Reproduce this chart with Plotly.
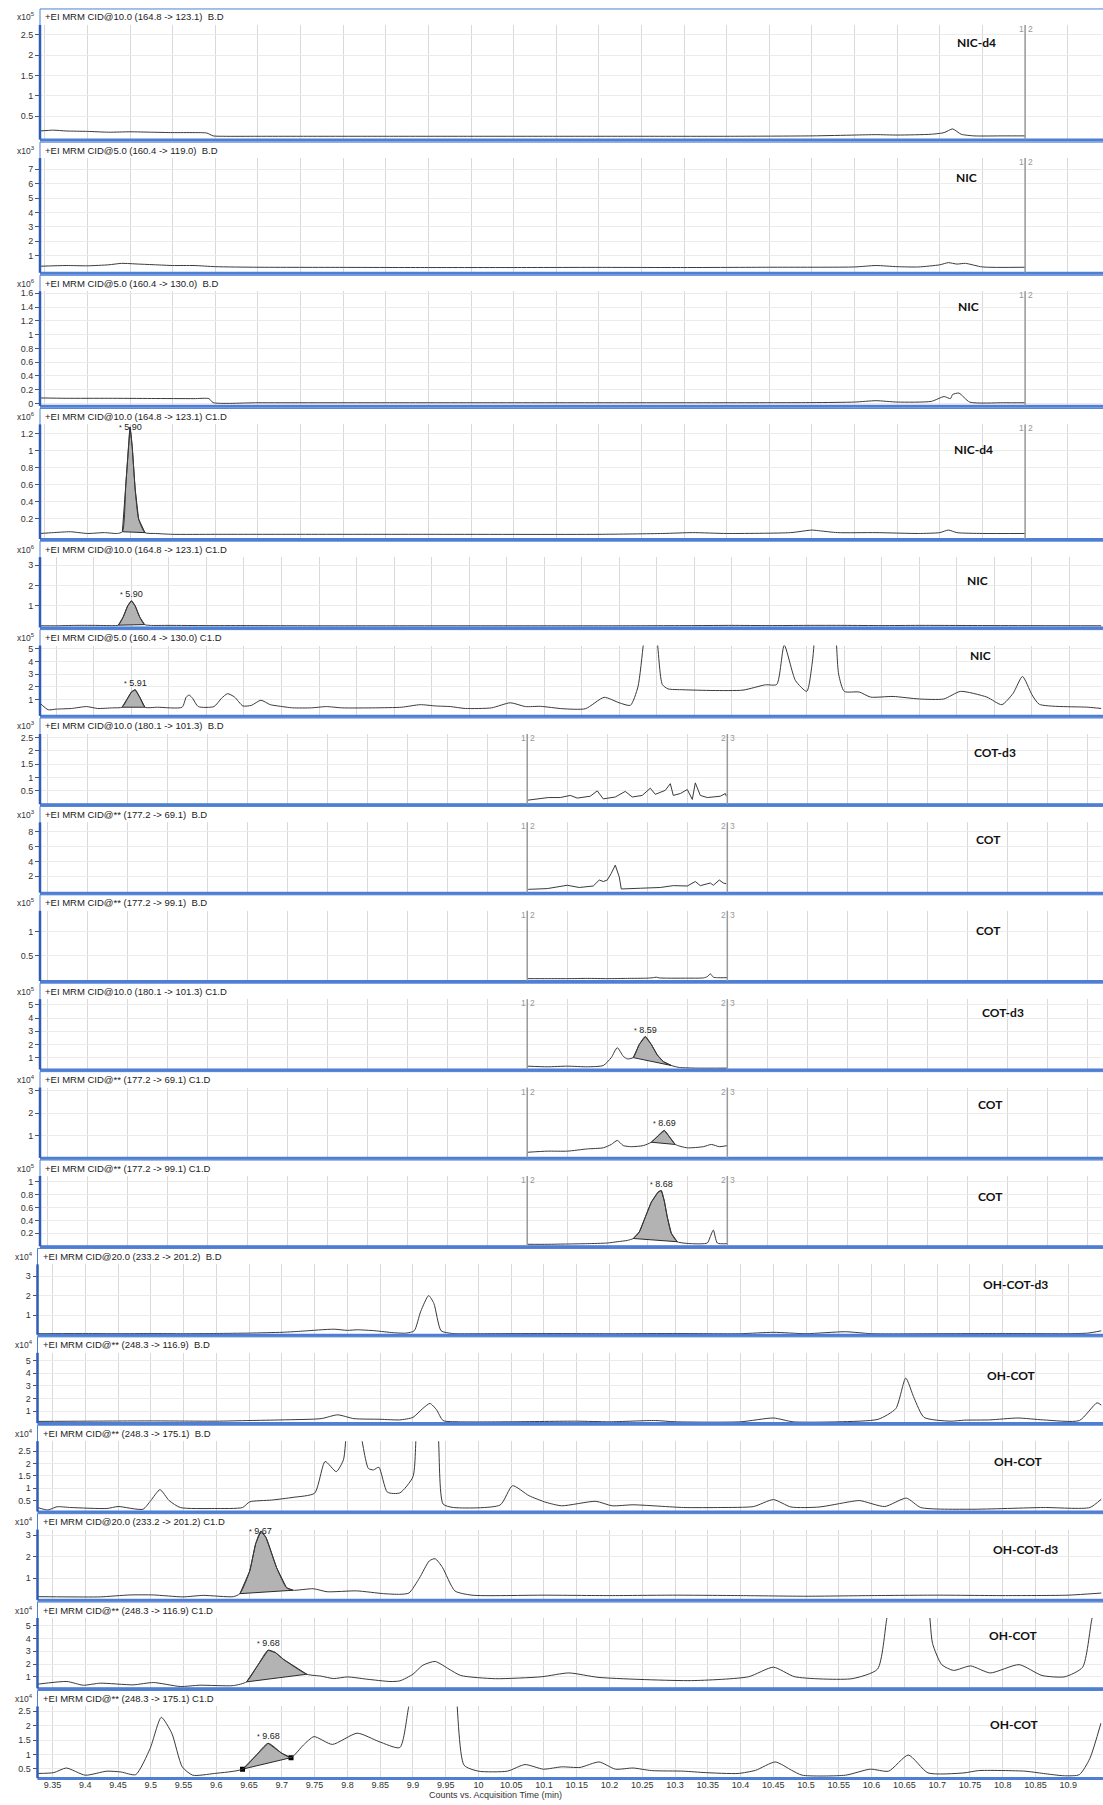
import plotly.graph_objects as go

W, H = 1103, 1805

# ------------------------------------------------------------------ data
titles = [
    "+EI MRM CID@10.0 (164.8 -> 123.1)\u00a0\u00a0B.D",
    "+EI MRM CID@5.0 (160.4 -> 119.0)\u00a0\u00a0B.D",
    "+EI MRM CID@5.0 (160.4 -> 130.0)\u00a0\u00a0B.D",
    "+EI MRM CID@10.0 (164.8 -> 123.1) C1.D",
    "+EI MRM CID@10.0 (164.8 -> 123.1) C1.D",
    "+EI MRM CID@5.0 (160.4 -> 130.0) C1.D",
    "+EI MRM CID@10.0 (180.1 -> 101.3)\u00a0\u00a0B.D",
    "+EI MRM CID@** (177.2 -> 69.1)\u00a0\u00a0B.D",
    "+EI MRM CID@** (177.2 -> 99.1)\u00a0\u00a0B.D",
    "+EI MRM CID@10.0 (180.1 -> 101.3) C1.D",
    "+EI MRM CID@** (177.2 -> 69.1) C1.D",
    "+EI MRM CID@** (177.2 -> 99.1) C1.D",
    "+EI MRM CID@20.0 (233.2 -> 201.2)\u00a0\u00a0B.D",
    "+EI MRM CID@** (248.3 -> 116.9)\u00a0\u00a0B.D",
    "+EI MRM CID@** (248.3 -> 175.1)\u00a0\u00a0B.D",
    "+EI MRM CID@20.0 (233.2 -> 201.2) C1.D",
    "+EI MRM CID@** (248.3 -> 116.9) C1.D",
    "+EI MRM CID@** (248.3 -> 175.1) C1.D",
]
compounds = ["NIC-d4", "NIC", "NIC", "NIC-d4", "NIC", "NIC",
             "COT-d3", "COT", "COT", "COT-d3", "COT", "COT",
             "OH-COT-d3", "OH-COT", "OH-COT", "OH-COT-d3", "OH-COT", "OH-COT"]
exponents = [5, 3, 6, 6, 6, 5, 3, 3, 5, 5, 4, 5, 4, 4, 4, 4, 4, 4]
ytick_values = [
    [0.5, 1, 1.5, 2, 2.5], [1, 2, 3, 4, 5, 6, 7],
    [0, 0.2, 0.4, 0.6, 0.8, 1, 1.2, 1.4, 1.6], [0.2, 0.4, 0.6, 0.8, 1, 1.2],
    [1, 2, 3], [1, 2, 3, 4, 5], [0.5, 1, 1.5, 2, 2.5], [2, 4, 6, 8],
    [0.5, 1], [1, 2, 3, 4, 5], [1, 2, 3], [0.2, 0.4, 0.6, 0.8, 1],
    [1, 2, 3], [1, 2, 3, 4, 5], [0.5, 1, 1.5, 2, 2.5], [1, 2, 3],
    [1, 2, 3, 4, 5], [0.5, 1, 1.5, 2, 2.5],
]
axis_title = "Counts vs. Acquisition Time (min)"

# segment boundaries (time) for NIC and COT panels
nic_segment_marks = [(8.0, "1", "2")]
cot_segment_marks = [(8.0, "1", "2"), (9.0, "2", "3")]

# chromatogram traces (time in min, counts in units of 10^exponent)
p1_t = [5.689, 5.72, 5.75, 5.80, 5.85, 5.90, 5.95, 6.00, 6.05, 6.08, 6.095, 6.12, 6.20, 6.30, 6.50,
        6.70, 6.90, 7.10, 7.30, 7.50, 7.60, 7.65, 7.70, 7.78, 7.81, 7.83, 7.85, 7.88, 7.95, 8.0]
p1_y = [0.14, 0.16, 0.14, 0.13, 0.11, 0.12, 0.11, 0.10, 0.10, 0.09, 0.02, 0.01, 0.01, 0.01, 0.01,
        0.01, 0.01, 0.01, 0.01, 0.02, 0.04, 0.05, 0.04, 0.06, 0.10, 0.19, 0.06, 0.02, 0.02, 0.02]

p2_t = [5.689, 5.75, 5.80, 5.85, 5.88, 5.92, 5.96, 6.0, 6.05, 6.1, 6.2, 6.4, 6.6, 6.8, 7.0, 7.2,
        7.4, 7.6, 7.65, 7.7, 7.75, 7.8, 7.82, 7.84, 7.86, 7.9, 8.0]
p2_y = [0.25, 0.3, 0.28, 0.35, 0.45, 0.4, 0.35, 0.3, 0.3, 0.22, 0.18, 0.17, 0.16, 0.16, 0.17, 0.16,
        0.18, 0.2, 0.3, 0.22, 0.2, 0.35, 0.5, 0.4, 0.45, 0.2, 0.18]

p3_t = [5.689, 5.75, 5.85, 5.95, 6.05, 6.085, 6.095, 6.2, 6.5, 7.0, 7.5, 7.6, 7.65, 7.7, 7.78,
        7.81, 7.825, 7.83, 7.845, 7.87, 7.95, 8.0]
p3_y = [0.08, 0.075, 0.075, 0.072, 0.07, 0.07, 0.012, 0.01, 0.01, 0.01, 0.012, 0.02, 0.04, 0.02, 0.03,
        0.1, 0.07, 0.13, 0.15, 0.02, 0.01, 0.01]

p4_t = [5.689, 5.72, 5.76, 5.80, 5.84, 5.87, 5.882, 5.89, 5.897, 5.90, 5.905, 5.912, 5.92, 5.935,
        5.96, 6.0, 6.1, 6.3, 6.6, 7.0, 7.15, 7.22, 7.3, 7.45, 7.5, 7.52, 7.56, 7.65, 7.75, 7.8,
        7.82, 7.84, 7.9, 8.0]
p4_y = [0.03, 0.04, 0.05, 0.03, 0.04, 0.03, 0.05, 0.6, 1.1, 1.28, 1.05, 0.55, 0.2, 0.04,
        0.03, 0.02, 0.02, 0.02, 0.02, 0.02, 0.03, 0.04, 0.03, 0.04, 0.07, 0.06, 0.04, 0.04, 0.03, 0.04,
        0.07, 0.04, 0.03, 0.03]

p5_t = [5.656, 5.7, 5.75, 5.8, 5.85, 5.865, 5.878, 5.89, 5.90, 5.91, 5.922, 5.935, 5.95, 6.0, 6.1,
        6.2, 6.4, 6.6, 7.0, 7.2, 7.4, 7.5, 7.6, 7.7, 7.8, 7.9, 8.0, 8.2, 8.485]
p5_y = [0.02, 0.02, 0.04, 0.04, 0.03, 0.05, 0.45, 1.0, 1.25, 1.0, 0.45, 0.08, 0.04, 0.04, 0.03,
        0.03, 0.02, 0.02, 0.02, 0.02, 0.03, 0.04, 0.03, 0.04, 0.04, 0.03, 0.04, 0.03, 0.02]

p6_t = [5.656, 5.678, 5.70, 5.74, 5.78, 5.81, 5.85, 5.875, 5.89, 5.90, 5.91, 5.922, 5.936, 5.97,
        6.035, 6.046, 6.054, 6.063, 6.078, 6.12, 6.14, 6.156, 6.175, 6.197, 6.22, 6.245, 6.27,
        6.29, 6.33, 6.38, 6.42, 6.46, 6.55, 6.62, 6.67, 6.71, 6.75, 6.79, 6.86, 6.91, 6.95, 6.99,
        7.05, 7.11, 7.16, 7.20, 7.23, 7.25, 7.265, 7.28, 7.30, 7.315, 7.33, 7.37, 7.45, 7.53,
        7.59, 7.62, 7.64, 7.67, 7.70, 7.715, 7.725, 7.75, 7.775, 7.785, 7.80, 7.84, 7.87, 7.93,
        8.0, 8.065, 8.11, 8.18, 8.22, 8.25, 8.275, 8.30, 8.32, 8.45, 8.485]
p6_y = [0.73, 0.2, 0.25, 0.3, 0.45, 0.3, 0.35, 0.4, 1.1, 1.6, 1.78, 1.2, 0.4, 0.4,
        0.4, 1.2, 1.36, 1.1, 0.45, 0.45, 1.1, 1.47, 1.2, 0.5, 0.55, 0.95, 0.6,
        0.5, 0.35, 0.35, 0.45, 0.35, 0.35, 0.4, 0.6, 0.5, 0.45, 0.3, 0.35, 0.75, 0.45, 0.47,
        0.28, 0.28, 1.18, 0.75, 0.55, 2.0, 5.5, 9.0, 6.0, 2.2, 1.85, 1.78, 1.72, 1.75,
        2.17, 2.2, 5.3, 2.5, 1.65, 4.0, 7.0, 10.0, 7.0, 3.0, 1.65, 1.6, 1.2, 1.25,
        1.05, 1.05, 1.65, 1.2, 0.6, 1.5, 2.83, 1.4, 0.63, 0.4, 0.3]

p7_t = [8.0, 8.055, 8.105, 8.165, 8.215, 8.25, 8.315, 8.35, 8.38, 8.44, 8.49, 8.525, 8.575, 8.615,
        8.64, 8.69, 8.715, 8.73, 8.765, 8.8, 8.825, 8.84, 8.865, 8.9, 8.93, 8.965, 8.99, 8.995]
p7_y = [0.15, 0.2, 0.25, 0.25, 0.33, 0.23, 0.3, 0.5, 0.2, 0.27, 0.48, 0.27, 0.33, 0.6,
        0.37, 0.52, 0.77, 0.33, 0.4, 0.55, 0.18, 0.8, 0.33, 0.25, 0.27, 0.3, 0.4, 0.3]

p8_t = [8.005, 8.1, 8.2, 8.26, 8.33, 8.36, 8.38, 8.4, 8.42, 8.44, 8.46, 8.47, 8.565, 8.665, 8.73,
        8.8, 8.84, 8.865, 8.915, 8.93, 8.96, 8.98, 8.995]
p8_y = [0.25, 0.35, 0.8, 0.5, 0.7, 1.5, 1.3, 1.5, 2.4, 3.5, 1.9, 0.3, 0.4, 0.5, 0.75,
        0.7, 1.3, 0.75, 1.1, 0.8, 1.5, 1.1, 1.0]

p9_t = [8.0, 8.1, 8.2, 8.3, 8.4, 8.5, 8.6, 8.63, 8.645, 8.66, 8.7, 8.8, 8.88, 8.9, 8.915, 8.93,
        8.95, 9.0]
p9_y = [0.02, 0.02, 0.02, 0.025, 0.02, 0.025, 0.03, 0.04, 0.05, 0.035, 0.03, 0.03, 0.035, 0.06,
        0.12, 0.05, 0.04, 0.04]

p10_t = [8.0, 8.1, 8.2, 8.3, 8.38, 8.42, 8.45, 8.48, 8.50, 8.53, 8.56, 8.59, 8.62, 8.65, 8.68,
         8.72, 8.76, 8.85, 8.95, 9.0]
p10_y = [0.35, 0.3, 0.35, 0.3, 0.4, 1.0, 1.75, 1.1, 0.9, 1.0, 2.0, 2.6, 2.0, 1.2, 0.7,
         0.4, 0.25, 0.2, 0.2, 0.2]

p11_t = [8.0, 8.1, 8.2, 8.3, 8.38, 8.42, 8.45, 8.48, 8.52, 8.58, 8.62, 8.66, 8.685, 8.71, 8.74,
         8.8, 8.88, 8.92, 8.96, 9.0]
p11_y = [0.25, 0.3, 0.3, 0.4, 0.45, 0.6, 0.78, 0.55, 0.5, 0.55, 0.7, 1.05, 1.23, 0.95, 0.6,
         0.45, 0.5, 0.6, 0.5, 0.55]

p12_t = [8.0, 8.1, 8.2, 8.3, 8.4, 8.45, 8.5, 8.53, 8.56, 8.59, 8.62, 8.655, 8.67, 8.685, 8.70,
         8.72, 8.75, 8.82, 8.9, 8.915, 8.93, 8.95, 9.0]
p12_y = [0.03, 0.03, 0.035, 0.04, 0.05, 0.07, 0.09, 0.12, 0.22, 0.45, 0.68, 0.84, 0.86, 0.7, 0.45,
         0.2, 0.07, 0.04, 0.05, 0.15, 0.25, 0.05, 0.04]

p13_t = [9.327, 9.40, 9.45, 9.50, 9.55, 9.60, 9.65, 9.70, 9.717, 9.74, 9.76, 9.78, 9.80, 9.815,
         9.842, 9.87, 9.89, 9.902, 9.912, 9.924, 9.932, 9.943, 9.96, 10.0, 10.1, 10.2, 10.3, 10.4,
         10.45, 10.5, 10.56, 10.6, 10.7, 10.8, 10.9, 10.93, 10.951]
p13_y = [0.05, 0.06, 0.05, 0.06, 0.05, 0.06, 0.08, 0.12, 0.15, 0.2, 0.25, 0.28, 0.22, 0.25,
         0.2, 0.1, 0.08, 0.2, 1.2, 2.0, 1.6, 0.2, 0.06, 0.05, 0.06, 0.05, 0.06, 0.05,
         0.12, 0.05, 0.15, 0.05, 0.05, 0.06, 0.05, 0.08, 0.2]

p14_t = [9.327, 9.40, 9.50, 9.60, 9.65, 9.70, 9.76, 9.785, 9.81, 9.85, 9.88, 9.90, 9.915, 9.926,
         9.936, 9.946, 9.97, 10.05, 10.15, 10.20, 10.27, 10.30, 10.40, 10.45, 10.48, 10.55, 10.61,
         10.637, 10.652, 10.665, 10.68, 10.72, 10.742, 10.78, 10.823, 10.862, 10.917, 10.944, 10.951]
p14_y = [0.18, 0.2, 0.22, 0.2, 0.25, 0.3, 0.4, 0.7, 0.4, 0.35, 0.3, 0.5, 1.2, 1.6,
         1.1, 0.25, 0.15, 0.15, 0.2, 0.15, 0.25, 0.15, 0.15, 0.45, 0.15, 0.15, 0.35,
         1.2, 3.6, 2.0, 0.5, 0.2, 0.28, 0.3, 0.45, 0.3, 0.25, 1.65, 1.45]

p15_t = [9.327, 9.343, 9.357, 9.378, 9.433, 9.45, 9.488, 9.50, 9.514, 9.528, 9.545, 9.597, 9.64,
         9.651, 9.684, 9.717, 9.75, 9.766, 9.783, 9.794, 9.80, 9.81, 9.818, 9.832, 9.84, 9.848,
         9.861, 9.88, 9.90, 9.906, 9.92, 9.935, 9.939, 9.946, 9.962, 10.033, 10.052, 10.077,
         10.103, 10.127, 10.179, 10.204, 10.236, 10.313, 10.37, 10.42, 10.45, 10.477, 10.52,
         10.566, 10.582, 10.62, 10.653, 10.675, 10.752, 10.862, 10.933, 10.951]
p15_y = [0.22, 0.12, 0.25, 0.22, 0.18, 0.26, 0.15, 0.5, 0.94, 0.5, 0.22, 0.18, 0.22,
         0.45, 0.52, 0.63, 0.8, 2.08, 1.67, 2.15, 3.5, 4.0, 3.5, 1.8, 1.74, 1.85,
         0.84, 0.81, 1.46, 3.5, 5.0, 4.0, 3.0, 0.36, 0.22, 0.32, 1.1, 0.7,
         0.43, 0.29, 0.47, 0.29, 0.33, 0.22, 0.22, 0.26, 0.54, 0.24, 0.24,
         0.45, 0.5, 0.26, 0.6, 0.22, 0.15, 0.22, 0.22, 0.57]

p16_t = [9.327, 9.372, 9.423, 9.468, 9.504, 9.549, 9.58, 9.626, 9.636, 9.651, 9.660, 9.668, 9.676,
         9.692, 9.707, 9.717, 9.748, 9.769, 9.814, 9.855, 9.88, 9.894, 9.91, 9.925, 9.934, 9.945,
         9.964, 9.99, 10.1, 10.2, 10.3, 10.4, 10.5, 10.6, 10.7, 10.8, 10.9, 10.951]
p16_y = [0.13, 0.12, 0.12, 0.21, 0.21, 0.12, 0.19, 0.13, 0.27, 1.33, 2.6, 3.19, 2.88,
         1.48, 0.55, 0.43, 0.5, 0.36, 0.4, 0.27, 0.24, 0.3, 1.0, 1.8, 1.9, 1.5,
         0.4, 0.2, 0.2, 0.18, 0.2, 0.18, 0.15, 0.18, 0.2, 0.18, 0.2, 0.3]

p17_t = [9.327, 9.372, 9.397, 9.423, 9.473, 9.504, 9.545, 9.575, 9.626, 9.646, 9.662, 9.679, 9.69,
         9.702, 9.738, 9.76, 9.779, 9.80, 9.83, 9.865, 9.88, 9.90, 9.915, 9.934, 9.955, 9.973,
         10.026, 10.096, 10.138, 10.184, 10.325, 10.412, 10.45, 10.483, 10.57, 10.609, 10.623,
         10.632, 10.66, 10.685, 10.693, 10.707, 10.725, 10.751, 10.781, 10.825, 10.86, 10.895,
         10.922, 10.936, 10.951]
p17_y = [0.42, 0.63, 0.34, 0.5, 0.37, 0.55, 0.24, 0.34, 0.31, 0.6, 1.8, 3.08, 2.9,
         2.38, 1.2, 1.05, 0.86, 0.99, 0.81, 0.63, 0.68, 1.2, 1.9, 2.2, 1.6, 1.1,
         0.85, 1.0, 1.3, 0.95, 0.7, 1.0, 1.75, 1.0, 0.85, 1.6, 5.5,
         8.0, 9.0, 7.0, 3.6, 1.95, 1.5, 1.85, 1.3, 1.95, 1.1, 1.0,
         1.75, 5.5, 9.0]

p18_t = [9.327, 9.352, 9.371, 9.40, 9.433, 9.455, 9.477, 9.499, 9.516, 9.532, 9.548, 9.564, 9.597,
         9.64, 9.66, 9.679, 9.70, 9.714, 9.733, 9.749, 9.777, 9.815, 9.848, 9.88, 9.894, 9.91,
         9.93, 9.955, 9.965, 9.978, 10.0, 10.044, 10.071, 10.099, 10.127, 10.155, 10.184, 10.209,
         10.236, 10.264, 10.313, 10.346, 10.396, 10.423, 10.453, 10.478, 10.494, 10.56, 10.598,
         10.626, 10.656, 10.686, 10.741, 10.763, 10.834, 10.862, 10.894, 10.917, 10.933, 10.95]
p18_y = [0.34, 0.37, 0.53, 0.28, 0.42, 0.39, 0.3, 1.21, 2.29, 1.74, 0.57, 0.28, 0.34,
         0.49, 0.95, 1.39, 1.04, 0.89, 1.33, 1.62, 1.35, 1.74, 1.45, 1.24, 2.7, 4.0,
         5.0, 5.0, 3.5, 0.63, 0.42, 0.42, 0.65, 0.49, 0.57, 0.55, 0.74, 0.49,
         0.53, 0.44, 0.42, 0.37, 0.34, 0.45, 0.74, 0.45, 0.28, 0.28, 0.49,
         0.42, 0.98, 0.36, 0.36, 0.44, 0.42, 0.34, 0.26, 0.3, 0.86, 2.09]

panel_t = [p1_t, p2_t, p3_t, p4_t, p5_t, p6_t, p7_t, p8_t, p9_t, p10_t, p11_t, p12_t,
           p13_t, p14_t, p15_t, p16_t, p17_t, p18_t]
panel_y = [p1_y, p2_y, p3_y, p4_y, p5_y, p6_y, p7_y, p8_y, p9_y, p10_y, p11_y, p12_y,
           p13_y, p14_y, p15_y, p16_y, p17_y, p18_y]

# integrated peaks: (panel index, start time, end time, label)
peaks = [
    (3, 5.882, 5.935, "5.90"),
    (4, 5.865, 5.935, "5.90"),
    (5, 5.875, 5.936, "5.91"),
    (9, 8.53, 8.72, "8.59"),
    (10, 8.62, 8.74, "8.69"),
    (11, 8.53, 8.75, "8.68"),
    (15, 9.636, 9.717, "9.67"),
    (16, 9.646, 9.738, "9.68"),
    (17, 9.64, 9.714, "9.68"),
]

# ------------------------------------------------------------------ layout constants
x_ranges = [(5.6887, 8.1793)] * 4 + [(5.6563, 8.4856)] * 2 + [(5.565, 10.87)] * 6 + [(9.3271, 10.9508)] * 6
x_dticks = [0.1] * 6 + [0.2] * 6 + [0.05] * 6
left_px = [40] * 12 + [37.5] * 6
y_ranges = [(-0.07, 2.74), (-0.2, 7.78), (-0.035, 1.63), (-0.035, 1.31), (-0.06, 3.4),
            (-0.28, 5.27), (0, 2.63), (-0.19, 9.24), (-0.03, 1.43), (0.1, 5.44),
            (0, 3.15), (0, 1.086), (0, 3.6), (0.05, 5.6), (0.06, 2.9),
            (-0.02, 3.26), (0.1, 5.6), (0.18, 2.67)]
label_pos = [(976, 40), (966, 175), (968, 305), (974, 448), (977, 579), (980, 655),
             (995, 752), (988, 839), (988, 931), (1003, 1013), (990, 1105), (990, 1197),
             (1015, 1286), (1011, 1377), (1018, 1463), (1025, 1552), (1013, 1638), (1014, 1727)]
# peaks whose label sits on the apex (apex close to plot top)
label_on_apex = {3, 15}
RIGHT = 1101.5

FONT = "Liberation Sans, Arial, sans-serif"
BLUE = "#4f7fd4"
BLUE_DARK = "#2e5cb8"
TRACE = "#3a3a3a"


def px_x(p):
    return p / W


def px_y(p):
    return 1 - p / H


fig = go.Figure()
shapes = []
annotations = []
layout = dict(width=W, height=H, margin=dict(l=0, r=0, t=0, b=0),
              paper_bgcolor="white", plot_bgcolor="white", showlegend=False)

for i in range(18):
    n = i + 1
    sfx = "" if n == 1 else str(n)
    xref, yref = "x" + sfx, "y" + sfx
    if i < 4:
        T = 6 + 133.6 * i
        PB = T + 131
    else:
        T = 540 + 88.7 * (i - 4)
        PB = T + 86.5
    if i == 17:
        PB = 1781
    PT = T + 16
    L = left_px[i]

    last = (i == 17)
    layout["xaxis" + sfx] = dict(
        domain=[px_x(L), px_x(RIGHT)], anchor=yref, range=list(x_ranges[i]),
        dtick=x_dticks[i], tick0=0, showgrid=True, gridcolor="#d9d9d9", gridwidth=1,
        zeroline=False, showline=False, ticks="", showticklabels=last,
        tickfont=dict(family=FONT, size=9, color="#333"), fixedrange=True,
    )
    layout["yaxis" + sfx] = dict(
        domain=[px_y(PB), px_y(PT)], anchor=xref, range=list(y_ranges[i]),
        tickmode="array", tickvals=ytick_values[i],
        ticktext=[("%g" % v) for v in ytick_values[i]],
        showgrid=True, gridcolor="#ebebeb", gridwidth=1, zeroline=False, showline=False,
        ticks="outside", ticklen=4, tickcolor="#555", tickwidth=1,
        tickfont=dict(family=FONT, size=9, color="#333"), fixedrange=True,
    )

    # panel frame
    shapes.append(dict(type="rect", xref="paper", yref="paper", x0=px_x(L), x1=px_x(W + 1),
                       y0=px_y(PB), y1=px_y(T), line=dict(color=BLUE, width=1), layer="above"))
    shapes.append(dict(type="line", xref="paper", yref="paper", x0=px_x(L), x1=px_x(W),
                       y0=px_y(PB + 0.5), y1=px_y(PB + 0.5), line=dict(color=BLUE, width=3), layer="above"))
    shapes.append(dict(type="line", xref="paper", yref="paper", x0=px_x(L), x1=px_x(L),
                       y0=px_y(PB), y1=px_y(PT), line=dict(color=BLUE_DARK, width=2.5), layer="above"))

    # header text and exponent
    annotations.append(dict(xref="paper", yref="paper", x=px_x(L + 3), y=px_y(T + 8),
                            xanchor="left", yanchor="middle", showarrow=False, text=titles[i],
                            font=dict(family=FONT, size=9.5, color="#222")))
    annotations.append(dict(xref="paper", yref="paper", x=px_x(L - 3), y=px_y(T + 8),
                            xanchor="right", yanchor="middle", showarrow=False,
                            text="x10<sup>%d</sup>" % exponents[i],
                            font=dict(family=FONT, size=8.5, color="#333")))
    lx, ly = label_pos[i]
    annotations.append(dict(xref="paper", yref="paper", x=px_x(lx), y=px_y(ly),
                            xanchor="center", yanchor="middle", showarrow=False,
                            text="<b>%s</b>" % compounds[i],
                            font=dict(family="Lato, Liberation Sans, sans-serif", size=12, color="#111")))

    # segment boundary markers
    marks = nic_segment_marks if i < 4 else (cot_segment_marks if 6 <= i <= 11 else [])
    for (tm, a, b) in marks:
        shapes.append(dict(type="line", xref=xref, yref="paper", x0=tm, x1=tm,
                           y0=px_y(PB), y1=px_y(PT), line=dict(color="#9a9a9a", width=1.5)))
        annotations.append(dict(xref=xref, yref="paper", x=tm, y=px_y(PT + 4), xshift=-4,
                                xanchor="center", yanchor="middle", showarrow=False, text=a,
                                font=dict(family=FONT, size=8.5, color="#999")))
        annotations.append(dict(xref=xref, yref="paper", x=tm, y=px_y(PT + 4), xshift=5,
                                xanchor="center", yanchor="middle", showarrow=False, text=b,
                                font=dict(family=FONT, size=8.5, color="#999")))

# integrated peak fills (drawn under the trace)
for (pi, t0, t1, lab) in peaks:
    ts, ys = panel_t[pi], panel_y[pi]
    sfx = "" if pi == 0 else str(pi + 1)
    seg = [(t, y) for t, y in zip(ts, ys) if t0 <= t <= t1]
    poly_t = [p[0] for p in seg] + [seg[0][0]]
    poly_y = [p[1] for p in seg] + [seg[0][1]]
    fig.add_trace(go.Scatter(x=poly_t, y=poly_y, mode="lines", fill="toself",
                             fillcolor="#b3b3b3", line=dict(color="#2a2a2a", width=1),
                             xaxis="x" + sfx, yaxis="y" + sfx, hoverinfo="skip"))
    apex = max(seg, key=lambda p: p[1])
    on_apex = pi in label_on_apex
    annotations.append(dict(xref="x" + sfx, yref="y" + sfx, x=apex[0], y=apex[1],
                            xanchor="center", yanchor="middle" if on_apex else "bottom",
                            yshift=0, showarrow=False,
                            text="<span style='font-size:7px'>*</span> " + lab,
                            font=dict(family=FONT, size=9, color="#222")))
    if pi == 17:
        fig.add_trace(go.Scatter(x=[seg[0][0], seg[-1][0]], y=[seg[0][1], seg[-1][1]],
                                 mode="markers", marker=dict(symbol="square", size=5, color="black"),
                                 xaxis="x" + sfx, yaxis="y" + sfx, hoverinfo="skip"))

for i in range(18):
    sfx = "" if i == 0 else str(i + 1)
    shape = "linear" if i in (6, 7) else "spline"
    fig.add_trace(go.Scatter(x=panel_t[i], y=panel_y[i], mode="lines",
                             line=dict(color=TRACE, width=1, shape=shape, smoothing=0.6),
                             xaxis="x" + sfx, yaxis="y" + sfx, hoverinfo="skip"))

annotations.append(dict(xref="paper", yref="paper", x=px_x(495), y=px_y(1798),
                        xanchor="center", yanchor="middle", showarrow=False, text=axis_title,
                        font=dict(family=FONT, size=9, color="#333")))

layout["shapes"] = shapes
layout["annotations"] = annotations
fig.update_layout(**layout)
fig.write_html("out.html", config={"displayModeBar": False},
               post_script="document.body.style.margin='0px';document.body.style.overflow='hidden';")
